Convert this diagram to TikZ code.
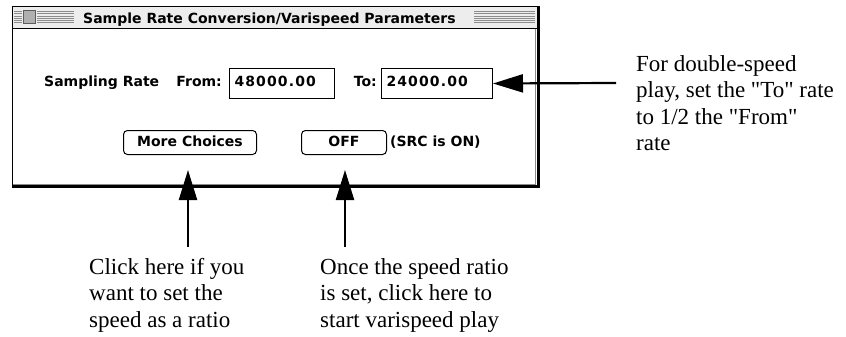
\documentclass[tikz,border=0pt]{standalone}
\usepackage{fontspec}
\setmainfont{Liberation Serif}
% a separate family without the TeX quote mapping, so " stays straight
\newfontfamily\notefont{Liberation Serif}
\newfontfamily\uifont{DejaVu Sans}
\usetikzlibrary{arrows.meta}
\definecolor{bargray}{HTML}{EDEDED}
\definecolor{stripegray}{HTML}{8C8C8C}
\definecolor{boxgray}{HTML}{B0B0B0}
\definecolor{edgegray}{HTML}{5C5C5C}
\definecolor{innergray}{HTML}{8A8A8A}
\begin{document}
\begin{tikzpicture}[x=1pt, y=-1pt,
  ui/.style={font=\uifont\bfseries\fontsize{14}{16}\selectfont, inner sep=0pt},
  field/.style={ui, font=\uifont\bfseries\fontsize{14}{16}\selectfont\addfontfeature{LetterSpace=8},
    draw=black, line width=1pt, anchor=north west,
    minimum height=30pt, text height=10pt, text depth=4pt, align=left, inner xsep=5pt},
  button/.style={ui, draw=black, line width=1pt, rounded corners=4pt, anchor=north west,
    minimum height=24pt, text height=10pt, text depth=2pt},
  label/.style={ui, anchor=base west},
  % multi-line notes: the base anchor sits on the last line
  note/.style={font=\notefont\fontsize{23}{26.5}\selectfont, align=left, inner sep=0pt, anchor=base west},
  callout/.style={line width=2.2pt, -{Triangle[length=30pt,width=18pt]}},
  stripe/.style={draw=stripegray, line width=1pt}
]
\useasboundingbox (0,0) rectangle (846,337);

% window frame with drop shadow
\fill[black] (12,6) rectangle (540,188);
\fill[white] (13.4,7.3) rectangle (536.5,185);
\draw[innergray, line width=0.8pt] (535.8,28) -- (535.8,184.4) -- (13.4,184.4);

% title bar
\fill[bargray] (13.4,7.3) rectangle (536.5,28);
\draw[black, line width=1.5pt] (13.4,28.6) -- (536.5,28.6);
\foreach \y in {11.5,13.8,16.1,18.4,20.7,23.0} {
  \draw[stripe] (14,\y) -- (22,\y);
  \draw[stripe] (37,\y) -- (74,\y);
  \draw[stripe] (474,\y) -- (535,\y);
}
\filldraw[fill=boxgray, draw=edgegray, line width=1pt] (23.5,11) rectangle (35.5,23.2);
\node[label] (title) at (83,24) {Sample Rate Conversion/Varispeed Parameters};

% first row: sampling rates
\node[label] (rate) at (44,86) {Sampling Rate};
\node[ui, anchor=base east] (fromlbl) at (222,86) {From:};
\node[field, text width=95pt] (from) at (229,68) {48000.00};
\node[ui, anchor=base east] (tolbl) at (377,86) {To:};
\node[field, text width=101pt] (to) at (381,68) {24000.00};

% second row: buttons
\node[button, minimum width=133pt] (more) at (123,130) {More Choices};
\node[button, minimum width=85pt] (off) at (301,130) {OFF};
\node[label] (src) at (390,146) {(SRC is ON)};

% explanatory notes
\node[note] (noteto) at (636,150.5) {For double-speed\\play, set the "To" rate\\to 1/2 the "From"\\rate};
\node[note] (notemore) at (89,327) {Click here if you\\want to set the\\speed as a ratio};
\node[note] (noteoff) at (320,327) {Once the speed ratio\\is set, click here to\\start varispeed play};

% callout arrows
\coordinate (tailto) at (616,83);
\coordinate (tailmore) at (188,247);
\coordinate (tipmore) at (188,170);
\coordinate (tailoff) at (345,247);
\coordinate (tipoff) at (345,170);
\draw[callout] (tailto) -- (to.east);
\draw[callout] (tailmore) -- (tipmore);
\draw[callout] (tailoff) -- (tipoff);
\end{tikzpicture}
\end{document}
